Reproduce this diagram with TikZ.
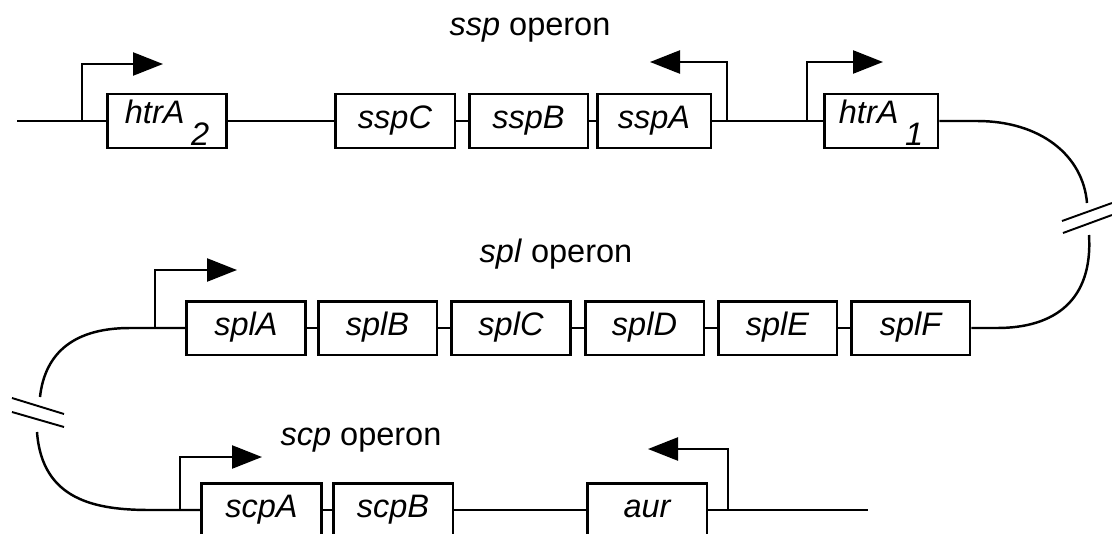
\documentclass[tikz,border=0pt]{standalone}
\usepackage{fontspec}
\setmainfont{Liberation Sans}
\usetikzlibrary{arrows.meta,calc}

\tikzset{
	gene/.style={draw, line width=1.7pt, fill=white, minimum width=2.4cm, minimum height=1.08cm,
		inner sep=0pt, text height=0.46cm, text depth=0.16cm, font=\fontsize{18.5}{22}\selectfont\itshape},
	htr/.style={gene, text depth=0.38cm},
	dna/.style={line width=1.4pt},
	promoter/.style={line width=1.4pt, -{Triangle[length=0.6cm,width=0.46cm]}},
	cut/.style={line width=1.1pt},
	operon/.style={anchor=base, font=\fontsize{18.5}{22}\selectfont},
}

\begin{document}
\begin{tikzpicture}[x=0.02cm, y=-0.02cm]
	\useasboundingbox (0,0) rectangle (1112,534);

	% ssp row
	\node[htr] (htrAtwo) at (167,121) {htrA\hspace{0.2em}\raisebox{-0.7em}{2}};
	\node[gene] (sspC) at (395,121) {sspC};
	\node[gene, minimum width=2.38cm] (sspB) at (528.5,121) {sspB};
	\node[gene, minimum width=2.28cm] (sspA) at (654,121) {sspA};
	\node[htr, minimum width=2.28cm] (htrAone) at (881,121) {htrA\hspace{0.2em}\raisebox{-0.7em}{1}};
	\node[operon] (ssplabel) at (530,35) {\textit{ssp} operon};

	% spl row
	\node[gene, minimum width=2.38cm] (splA) at (246,328) {splA};
	\node[gene, minimum width=2.38cm] (splB) at (377.5,328) {splB};
	\node[gene, minimum width=2.38cm] (splC) at (511,328) {splC};
	\node[gene, minimum width=2.38cm] (splD) at (644.5,328) {splD};
	\node[gene, minimum width=2.38cm] (splE) at (777.5,328) {splE};
	\node[gene, minimum width=2.38cm] (splF) at (910.5,328) {splF};
	\node[operon] (spllabel) at (556,262) {\textit{spl} operon};

	% scp row
	\node[gene] (scpA) at (261.5,510) {scpA};
	\node[gene] (scpB) at (393,510) {scpB};
	\node[gene] (aur) at (647,510) {aur};
	\node[operon] (scplabel) at (361,445) {\textit{scp} operon};

	\coordinate (start) at (17,121);
	\coordinate (stop) at (868,510);
	\coordinate (P1) at (82,121);
	\coordinate (P2) at (727,121);
	\coordinate (P3) at (807,121);
	\coordinate (P4) at (155,328);
	\coordinate (P5) at (180,510);
	\coordinate (P6) at (728,510);

	% chromosome
	\draw[dna] (start) -- (htrAtwo);
	\draw[dna] (htrAtwo) -- (sspC) -- (sspB) -- (sspA) -- (htrAone);
	\draw[dna] (htrAone.east) -- (977,121) .. controls (1040,121) and (1083,155) .. (1087,203);
	\draw[dna] (1089,235) .. controls (1093,300) and (1055,328) .. (997,328) -- (splF.east);
	\draw[dna] (splA) -- (splB) -- (splC) -- (splD) -- (splE) -- (splF);
	\draw[dna] (splA.west) -- (130,328) .. controls (75,328) and (45,352) .. (40,397);
	\draw[dna] (37,432) .. controls (42,500) and (95,510) .. (150,510) -- (scpA.west);
	\draw[dna] (scpA) -- (scpB) -- (aur);
	\draw[dna] (aur.east) -- (stop);

	% breaks
	\draw[cut] (1062,221) -- (1112,203);
	\draw[cut] (1063,233) -- (1112,215);
	\draw[cut] (12,398) -- (64,414);
	\draw[cut] (12,412) -- (64,427);

	% promoters
	\draw[promoter] (P1) -- ++(0,-57) -- ++(81,0);
	\draw[promoter] (P2) -- ++(0,-59) -- ++(-77,0);
	\draw[promoter] (P3) -- ++(0,-59) -- ++(76,0);
	\draw[promoter] (P4) -- ++(0,-58) -- ++(82,0);
	\draw[promoter] (P5) -- ++(0,-53) -- ++(82,0);
	\draw[promoter] (P6) -- ++(0,-61) -- ++(-80,0);
\end{tikzpicture}
\end{document}
